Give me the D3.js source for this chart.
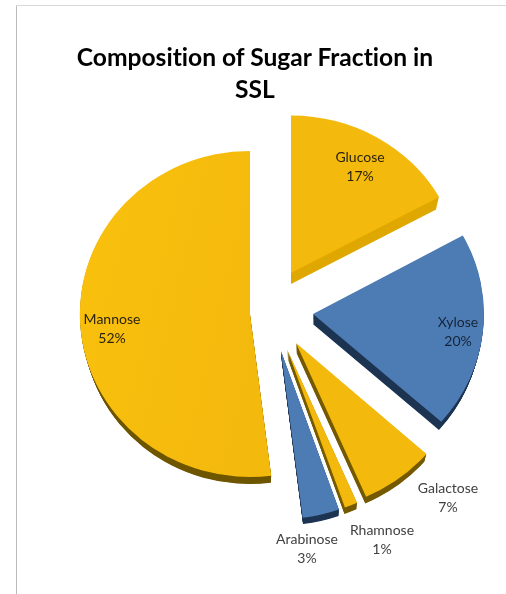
<!DOCTYPE html>
<html><head><meta charset="utf-8">
<script src="https://cdn.jsdelivr.net/npm/d3@7/dist/d3.min.js"></script>
<style>html,body{margin:0;background:#fff}svg{display:block}text{font-family:Lato,"Open Sans",sans-serif;font-variant-ligatures:none}</style>
</head><body><svg id="c" width="506" height="594"></svg>
<script>
const sugars = ["Glucose","Xylose","Galactose","Rhamnose","Arabinose","Mannose"];
const shares = [17,19.5,6.9,1.2,3.4,52];
const titleLines = ["Composition of Sugar Fraction in","SSL"];
const apexes = [[291,273],[313,314],[296,343],[287,349],[281,351],[250,314]];
const radiiX = [169,171,174,174,174,170];
const radiiY = [157.5,163,168,168,168,163];
const labelAnchors = [[360,162],[458,327],[448,493],[382,535],[307,544],[112,324]];
const topColours = ["#f4b908","#4e7cb4","#f4b908","#f4b908","#4e7cb4","url(#mannoseFill)"];
const sideColours = ["#dfa800","#1e3553","#755b00","#755b00","#1e3553","#6f5600"];
const labelColours = ["#2b2410","#14243a","#404040","#404040","#404040","#2b2410"];
const vanishX = [291,320,320,320,320,250];
const vanishY = 850;
const extrude = 0.019;
const extrudeSteps = 14;

const svg = d3.select("#c");
const defs = svg.append("defs");
defs.append("filter").attr("id","soft").append("feGaussianBlur").attr("stdDeviation",0.4);
const grad = defs.append("linearGradient").attr("id","mannoseFill").attr("x1","0").attr("x2","1").attr("y1","0").attr("y2","0.4");
grad.append("stop").attr("offset","0").attr("stop-color","#f9c10e");
grad.append("stop").attr("offset","1").attr("stop-color","#f4b908");

svg.append("path").attr("d","M16.5 594V5.5").attr("fill","none").attr("stroke","#bbbbbb");
svg.append("path").attr("d","M16.5 5.5H506").attr("fill","none").attr("stroke","#d9d9d9");

const root = svg.append("g").attr("filter","url(#soft)");
const t = root.append("g").attr("text-anchor","middle").attr("font-weight",700).attr("font-size",24.6).attr("fill","#000");
titleLines.forEach((l,i)=>t.append("text").attr("x",255).attr("y",66+i*31.5).text(l));

const pie = d3.pie().sort(null).value(d=>d)(shares);
const arc = d3.arc().innerRadius(0).outerRadius(1);
const g = root.selectAll("g.slice").data(pie).join("g").attr("class","slice");
g.each(function(d,i){
  const s = d3.select(this);
  const place = `translate(${apexes[i][0]},${apexes[i][1]}) scale(${radiiX[i]},${radiiY[i]})`;
  for(let k=extrudeSteps;k>0;k--){
    const f = 1-extrude*k/extrudeSteps;
    s.append("path").attr("d",arc(d)).attr("fill",sideColours[i])
     .attr("transform",`translate(${vanishX[i]},${vanishY}) scale(${f}) translate(${-vanishX[i]},${-vanishY}) ${place}`);
  }
  s.append("path").attr("d",arc(d)).attr("fill",topColours[i]).attr("transform",place);
});
const lab = root.append("g").attr("text-anchor","middle").attr("font-size",14);
sugars.forEach((n,i)=>{
  lab.append("text").attr("x",labelAnchors[i][0]).attr("y",labelAnchors[i][1]).attr("fill",labelColours[i]).text(n);
  lab.append("text").attr("x",labelAnchors[i][0]).attr("y",labelAnchors[i][1]+18.5).attr("fill",labelColours[i]).text(Math.round(shares[i])+"%");
});
</script></body></html>
